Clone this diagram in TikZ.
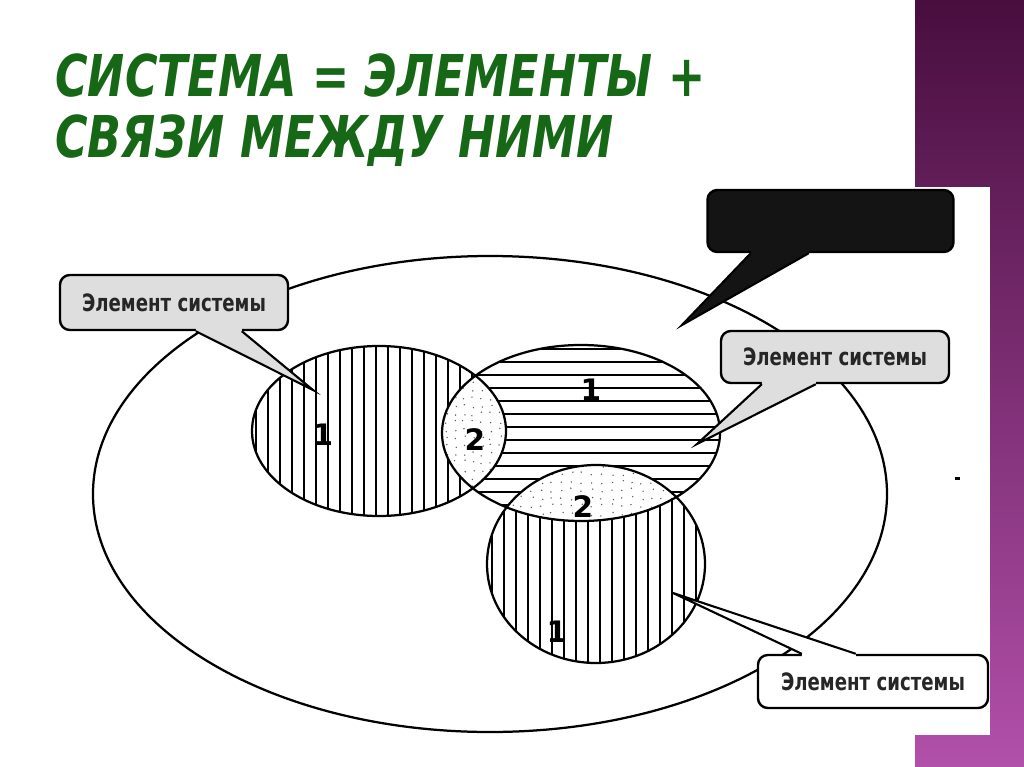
\documentclass[tikz,border=0pt]{standalone}
\usepackage{fontspec}
\usepackage{tikz}
\usetikzlibrary{calc}
\newfontfamily\titlefont{DejaVu Sans}[FakeStretch=0.77]
\newfontfamily\callfont{DejaVu Sans}[FakeStretch=0.76]
\newfontfamily\digitfont{DejaVu Sans}
\definecolor{titlegreen}{RGB}{22,104,22}
\definecolor{stripdark}{RGB}{72,14,62}
\definecolor{striplight}{RGB}{178,80,170}
\definecolor{callgray}{RGB}{222,222,222}
\definecolor{dotgray}{RGB}{90,90,90}
% the three element rings and the system ring (pixel units, y down)
\newcommand{\ellSys}{(490,494) ellipse [x radius=397, y radius=238]}
\newcommand{\ellL}{(379,431) ellipse [x radius=127, y radius=85]}
\newcommand{\ellR}{(581,433) ellipse [x radius=139, y radius=88]}
\newcommand{\ellB}{(596,564) ellipse [x radius=109, y radius=99]}
\tikzset{
  ringline/.style ={line width=1.6pt},
  hatchline/.style={line width=0.9pt},
  callbox/.style  ={draw=black,line width=1.7pt,rounded corners=7pt,inner sep=0pt,
                    font=\callfont\bfseries\fontsize{17}{17}\selectfont,text=black!85},
  callgrey/.style ={callbox,fill=callgray},
  callblack/.style={callbox,fill=black!92},
  callwhite/.style={callbox,fill=white},
  digit/.style    ={inner sep=0.5pt,font=\digitfont\bfseries\fontsize{21}{21}\selectfont},
  titletext/.style={anchor=base west,inner sep=0pt,text=titlegreen,
                    font=\titlefont\bfseries\itshape\fontsize{41}{41}\selectfont},
}
% #1 box, #2 anchor, #3/#4 base offsets, #5 inward shift, #6 tip, #7 fill
\newcommand{\calltail}[7]{%
  \fill[#7] ($(#1.#2)+(#3,#5)$) -- ($(#1.#2)+(#3,0)$) -- (#6)
    -- ($(#1.#2)+(#4,0)$) -- ($(#1.#2)+(#4,#5)$) -- cycle;
  \draw[line width=1.5pt,line join=miter] ($(#1.#2)+(#3,0)$) -- (#6) -- ($(#1.#2)+(#4,0)$);
}
\newcommand{\stipple}[2]{%
  \foreach \sx in {#1} {\foreach \sy in {#2} {
    \pgfmathsetmacro{\jx}{\sx+1.5*rand}
    \pgfmathsetmacro{\jy}{\sy+2*rand}
    \fill[dotgray] (\jx,\jy) circle (0.55pt);}}%
}

\begin{document}
\begin{tikzpicture}[x=0.025cm,y=-0.025cm]
  \useasboundingbox (0,0) rectangle (1024,767);
  \fill[white] (0,0) rectangle (1024,767);
  \shade[top color=stripdark,bottom color=striplight] (915,0) rectangle (1024,767);
  \fill[white] (915,187) rectangle (990,735);

  \node[titletext] (t1) at (55,97)  {СИСТЕМА = ЭЛЕМЕНТЫ +};
  \node[titletext] (t2) at (55,158) {СВЯЗИ МЕЖДУ НИМИ};

  \pgfmathsetseed{11}
  % hatching
  \begin{scope}
    \clip \ellL;
    \foreach \hx in {256,268,...,506} \draw[hatchline] (\hx,340) -- (\hx,520);
  \end{scope}
  \begin{scope}
    \clip \ellR;
    \foreach \hy in {349,362,...,521} \draw[hatchline] (440,\hy) -- (722,\hy);
  \end{scope}
  \begin{scope}
    \clip \ellB;
    \foreach \hx in {492,504,...,705} \draw[hatchline] (\hx,462) -- (\hx,666);
  \end{scope}
  % overlaps
  \begin{scope}
    \clip \ellL; \clip \ellR;
    \fill[white] \ellR;
    \stipple{446,455,...,510}{350,358,...,520}
  \end{scope}
  \begin{scope}
    \clip \ellB; \clip \ellR;
    \fill[white] \ellB;
    \stipple{492,502,...,700}{466,474,...,524}
  \end{scope}

  \draw[ringline] \ellSys;
  \draw[ringline] \ellL;
  \draw[ringline] \ellR;
  \draw[ringline] \ellB;

  \node[digit] (dL1) at (323,435) {1};
  \node[digit] (dL2) at (475,440) {2};
  \node[digit] (dR1) at (591,390) {1};
  \node[digit] (dB2) at (583,507) {2};
  \node[digit] (dB1) at (557,632) {1};

  % callouts
  \node[callgrey,minimum width=5.7cm,minimum height=1.375cm] (elemA) at (174,302.5) {Элемент системы};
  \node[callblack,minimum width=6.15cm,minimum height=1.55cm] (linkbox) at (830.5,221) {};
  \node[callgrey,minimum width=5.7cm,minimum height=1.3cm] (elemB) at (835,357) {Элемент системы};
  \node[callwhite,minimum width=5.75cm,minimum height=1.325cm] (elemC) at (873,681.5) {Элемент системы};

  \coordinate (tipA) at (313,390);
  \coordinate (tipL) at (682,325);
  \coordinate (tipB) at (697,444);
  \coordinate (tipC) at (673,593);

  \calltail{elemA}{south west}{137}{183}{-3}{tipA}{callgray}
  \calltail{linkbox}{south west}{44.5}{102.5}{-3}{tipL}{black!92}
  \calltail{elemB}{south west}{42}{96}{-3}{tipB}{callgray}
  \calltail{elemC}{north west}{45}{99}{3}{tipC}{white}

  \fill (955,477) rectangle (960,479.5);
\end{tikzpicture}
\end{document}
